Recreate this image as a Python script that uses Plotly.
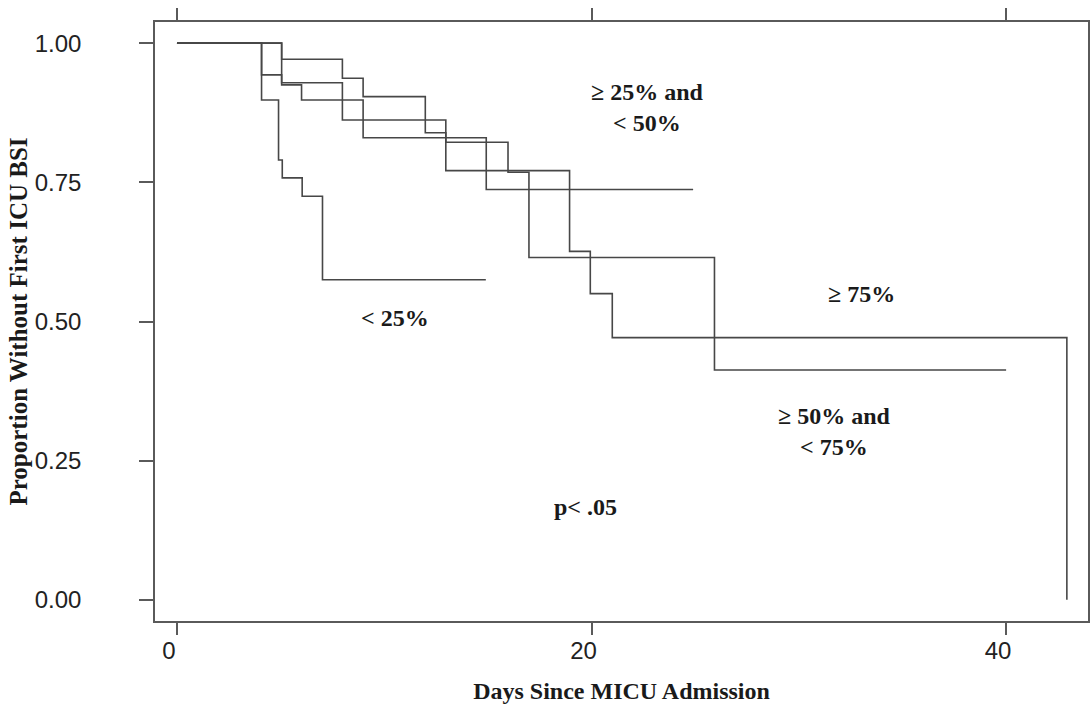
import plotly.graph_objects as go

# ---- Data ----
x_ticks = [0, 20, 40]
y_ticks = [0.0, 0.25, 0.5, 0.75, 1.0]
y_tick_labels = ["0.00", "0.25", "0.50", "0.75", "1.00"]

# < 25%
lt25_days = [0, 4.08, 4.9, 5.08, 6.04, 7.02, 14.9]
lt25_surv = [1.0, 0.898, 0.79, 0.758, 0.725, 0.575, 0.575]

# >= 25% and < 50%
p25_50_days = [0, 4.08, 5.05, 6.01, 8.98, 14.92, 24.9]
p25_50_surv = [1.0, 0.943, 0.925, 0.898, 0.830, 0.737, 0.737]

# >= 50% and < 75%
p50_75_days = [0, 5.05, 7.98, 12.97, 15.97, 16.98, 25.93, 40.0]
p50_75_surv = [1.0, 0.929, 0.862, 0.822, 0.768, 0.615, 0.413, 0.413]

# >= 75%
p75_days = [0, 5.05, 7.98, 8.98, 11.98, 12.97, 18.94, 19.94, 21.0, 42.93]
p75_surv = [1.0, 0.971, 0.937, 0.904, 0.839, 0.771, 0.626, 0.550, 0.471, 0.0]

groups = [
    ("< 25%", lt25_days, lt25_surv),
    ("≥ 25% and < 50%", p25_50_days, p25_50_surv),
    ("≥ 50% and < 75%", p50_75_days, p50_75_surv),
    ("≥ 75%", p75_days, p75_surv),
]

# label texts and positions (days, proportion)
labels = [
    ("<b>≥ 25% and<br>< 50%</b>", 22.7, 0.885),
    ("<b>≥ 75%</b>", 33.0, 0.549),
    ("<b>< 25%</b>", 10.5, 0.507),
    ("<b>≥ 50% and<br>< 75%</b>", 31.7, 0.303),
    ("<b>p< .05</b>", 19.7, 0.167),
]

LINE = "#474747"
AXIS = "#5a5a5a"
SERIF = "Liberation Serif"
SANS = "Liberation Sans"

fig = go.Figure()
for name, d, s in groups:
    fig.add_trace(go.Scatter(
        x=d, y=s, mode="lines", name=name,
        line=dict(shape="hv", color=LINE, width=1.6),
        hoverinfo="skip",
    ))

for text, x, y in labels:
    fig.add_annotation(
        x=x, y=y, xref="x", yref="y", text=text, showarrow=False,
        align="center", font=dict(family=SERIF, size=24, color="#1a1a1a"),
    )

fig.update_layout(
    width=1090, height=705,
    margin=dict(l=155, r=2, t=22, b=84),
    paper_bgcolor="white", plot_bgcolor="white",
    showlegend=False,
)

fig.update_xaxes(
    range=[-1.06, 43.95], tickvals=x_ticks, automargin=False,
    ticks="outside", ticklen=12, tickwidth=1.5, tickcolor=AXIS,
    showline=True, linecolor=AXIS, linewidth=1.5, mirror="ticks",
    showgrid=False, zeroline=False,
    tickfont=dict(family=SANS, size=24, color="#222"),
    ticklabelstandoff=-5, ticklabelshift=-8,
    title=dict(text="<b>Days Since MICU Admission</b>",
               font=dict(family=SERIF, size=24, color="#1a1a1a"), standoff=20),
)

fig.update_yaxes(
    range=[-0.038, 1.038], tickvals=y_ticks, ticktext=y_tick_labels, automargin=False,
    ticks="outside", ticklen=14, tickwidth=1.5, tickcolor=AXIS,
    showline=True, linecolor=AXIS, linewidth=1.5, mirror="ticks",
    showgrid=False, zeroline=False,
    tickfont=dict(family=SANS, size=24, color="#222"),
    ticklabelstandoff=53,
    title=dict(text="<b>Proportion Without First ICU BSI</b>",
               font=dict(family=SERIF, size=25, color="#1a1a1a"), standoff=0),
)

# remove the page's default body margin so the 1090x705 figure fills the window
fig.write_html(
    "out.html",
    config={"displayModeBar": False},
    post_script="document.body.style.margin='0px';"
                "document.documentElement.style.overflow='hidden';",
)
